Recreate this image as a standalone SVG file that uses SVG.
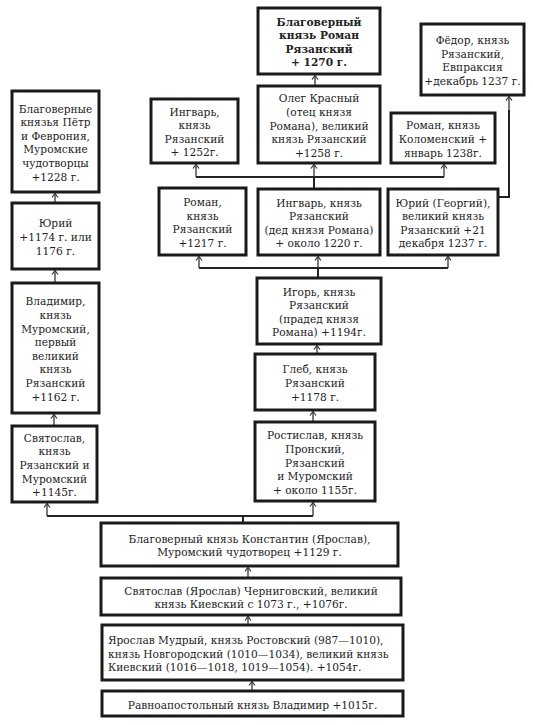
<svg xmlns="http://www.w3.org/2000/svg" width="533" height="725" viewBox="0 0 533 725">
<style>
.box{fill:#fff;stroke:#1a1a1a;stroke-width:3}
text{font-family:"DejaVu Serif Condensed","DejaVu Serif","Liberation Serif",serif;font-stretch:condensed;font-size:11.8px;fill:#222;text-anchor:middle}
.b{font-weight:bold}
.l{text-anchor:start}
.bus{fill:none;stroke:#222;stroke-width:2}
.arr{fill:none;stroke:#333;stroke-width:1.3;marker-end:url(#ah)}
</style>
<defs>
<marker id="ah" markerUnits="userSpaceOnUse" markerWidth="10" markerHeight="10" refX="0" refY="0" viewBox="-6 -5 8 10" orient="auto" overflow="visible">
<path d="M-4,-3 L0,0 L-4,3" fill="none" stroke="#333" stroke-width="1.2"/>
</marker>
</defs>
<rect width="533" height="725" fill="#fff"/>
<g id="connectors">
<path class="arr" d="M252,691 V681.5"/>
<path class="arr" d="M248,625 V616.5"/>
<path class="arr" d="M248,578 V567.5"/>
<path class="bus" d="M243,523 V516 M47,516 H313"/>
<path class="arr" d="M47,516 V503.5"/>
<path class="arr" d="M313,516 V502.5"/>
<path class="arr" d="M54,426 V414.5"/>
<path class="arr" d="M55,283 V270.5"/>
<path class="arr" d="M55,203 V193.5"/>
<path class="arr" d="M313,422 V411.5"/>
<path class="arr" d="M317,354 V345.5"/>
<path class="bus" d="M318,278 V268 M199,268 H448"/>
<path class="arr" d="M199,268 V256.5"/>
<path class="arr" d="M318,268 V256.5"/>
<path class="arr" d="M448,268 V256.5"/>
<path class="bus" d="M314,189 V177 M196,177 H444"/>
<path class="arr" d="M196,177 V164.5"/>
<path class="arr" d="M314,177 V164.5"/>
<path class="arr" d="M444,177 V164.5"/>
<path class="arr" d="M315,86 V75.5"/>
<path class="bus" d="M498,197 H509 V110"/>
<path class="arr" d="M509,110 V96.5"/>
</g>
<g id="roman">
<rect class="box" x="258" y="8" width="122" height="66"/>
<text class="b" x="319"><tspan x="319" y="25.6">Благоверный</tspan><tspan x="319" y="39.2">князь Роман</tspan><tspan x="319" y="52.8">Рязанский</tspan><tspan x="319" y="66.4">+ 1270 г.</tspan></text>
</g>
<g id="fyodor">
<rect class="box" x="421" y="24" width="103" height="71"/>
<text x="472.5"><tspan x="472.5" y="44.1">Фёдор, князь</tspan><tspan x="472.5" y="57.7">Рязанский,</tspan><tspan x="472.5" y="71.3">Евпраксия</tspan><tspan x="472.5" y="84.9">+декабрь 1237 г.</tspan></text>
</g>
<g id="peter">
<rect class="box" x="12" y="91" width="87" height="101"/>
<text x="55.5"><tspan x="55.5" y="112.5">Благоверные</tspan><tspan x="55.5" y="126.1">князья Пётр</tspan><tspan x="55.5" y="139.7">и Феврония,</tspan><tspan x="55.5" y="153.3">Муромские</tspan><tspan x="55.5" y="166.9">чудотворцы</tspan><tspan x="55.5" y="180.5">+1228 г.</tspan></text>
</g>
<g id="ingvar1252">
<rect class="box" x="151" y="99" width="87" height="64"/>
<text x="194.5"><tspan x="194.5" y="115.6">Ингварь,</tspan><tspan x="194.5" y="129.2">князь</tspan><tspan x="194.5" y="142.8">Рязанский</tspan><tspan x="194.5" y="156.4">+ 1252г.</tspan></text>
</g>
<g id="oleg">
<rect class="box" x="258" y="86" width="122" height="77"/>
<text x="319"><tspan x="319" y="102.3">Олег Красный</tspan><tspan x="319" y="115.9">(отец князя</tspan><tspan x="319" y="129.5">Романа), великий</tspan><tspan x="319" y="143.1">князь Рязанский</tspan><tspan x="319" y="156.7">+1258 г.</tspan></text>
</g>
<g id="romanK">
<rect class="box" x="391" y="113" width="104" height="50"/>
<text x="443"><tspan x="443" y="129.4">Роман, князь</tspan><tspan x="443" y="143">Коломенский +</tspan><tspan x="443" y="156.6">январь 1238г.</tspan></text>
</g>
<g id="roman1217">
<rect class="box" x="159" y="188" width="87" height="67"/>
<text x="202.5"><tspan x="202.5" y="206.1">Роман,</tspan><tspan x="202.5" y="219.7">князь</tspan><tspan x="202.5" y="233.3">Рязанский</tspan><tspan x="202.5" y="246.9">+1217 г.</tspan></text>
</g>
<g id="ingvarDed">
<rect class="box" x="258" y="189" width="122" height="66"/>
<text x="319"><tspan x="319" y="206.6">Ингварь, князь</tspan><tspan x="319" y="220.2">Рязанский</tspan><tspan x="319" y="233.8">(дед князя Романа)</tspan><tspan x="319" y="247.4">+ около 1220 г.</tspan></text>
</g>
<g id="yuriG">
<rect class="box" x="388" y="189" width="110" height="66"/>
<text x="443"><tspan x="443" y="206.6">Юрий (Георгий),</tspan><tspan x="443" y="220.2">великий князь</tspan><tspan x="443" y="233.8">Рязанский +21</tspan><tspan x="443" y="247.4">декабря 1237 г.</tspan></text>
</g>
<g id="yuri1174">
<rect class="box" x="12" y="203" width="87" height="66"/>
<text x="55.5"><tspan x="55.5" y="227.4">Юрий</tspan><tspan x="55.5" y="241">+1174 г. или</tspan><tspan x="55.5" y="254.6">1176 г.</tspan></text>
</g>
<g id="igor">
<rect class="box" x="257" y="278" width="124" height="66"/>
<text x="319"><tspan x="319" y="295.6">Игорь, князь</tspan><tspan x="319" y="309.2">Рязанский</tspan><tspan x="319" y="322.8">(прадед князя</tspan><tspan x="319" y="336.4">Романа) +1194г.</tspan></text>
</g>
<g id="vladimirM">
<rect class="box" x="12" y="283" width="87" height="130"/>
<text x="55.5"><tspan x="55.5" y="305.4">Владимир,</tspan><tspan x="55.5" y="319">князь</tspan><tspan x="55.5" y="332.6">Муромский,</tspan><tspan x="55.5" y="346.2">первый</tspan><tspan x="55.5" y="359.8">великий</tspan><tspan x="55.5" y="373.4">князь</tspan><tspan x="55.5" y="387">Рязанский</tspan><tspan x="55.5" y="400.6">+1162 г.</tspan></text>
</g>
<g id="gleb">
<rect class="box" x="255" y="354" width="120" height="56"/>
<text x="315"><tspan x="315" y="373.4">Глеб, князь</tspan><tspan x="315" y="387">Рязанский</tspan><tspan x="315" y="400.6">+1178 г.</tspan></text>
</g>
<g id="svyatoslavR">
<rect class="box" x="12" y="426" width="85" height="76"/>
<text x="54.5"><tspan x="54.5" y="441.8">Святослав,</tspan><tspan x="54.5" y="455.4">князь</tspan><tspan x="54.5" y="469">Рязанский и</tspan><tspan x="54.5" y="482.6">Муромский</tspan><tspan x="54.5" y="496.2">+1145г.</tspan></text>
</g>
<g id="rostislav">
<rect class="box" x="255" y="422" width="120" height="79"/>
<text x="315"><tspan x="315" y="439.3">Ростислав, князь</tspan><tspan x="315" y="452.9">Пронский,</tspan><tspan x="315" y="466.5">Рязанский</tspan><tspan x="315" y="480.1">и Муромский</tspan><tspan x="315" y="493.7">+ около 1155г.</tspan></text>
</g>
<g id="konstantin">
<rect class="box" x="101" y="523" width="297" height="43"/>
<text x="249.5"><tspan x="249.5" y="542.7">Благоверный князь Константин (Ярослав),</tspan><tspan x="249.5" y="556.3">Муромский чудотворец +1129 г.</tspan></text>
</g>
<g id="svyatoslavC">
<rect class="box" x="101" y="578" width="300" height="37"/>
<text x="251"><tspan x="251" y="594.7">Святослав (Ярослав) Черниговский, великий</tspan><tspan x="251" y="608.3">князь Киевский с 1073 г., +1076г.</tspan></text>
</g>
<g id="yaroslav">
<rect class="box" x="102" y="625" width="301" height="55"/>
<text class="l" x="108"><tspan x="108" y="643.9">Ярослав Мудрый, князь Ростовский (987—1010),</tspan><tspan x="108" y="657.5">князь Новгородский (1010—1034), великий князь</tspan><tspan x="108" y="671.1">Киевский (1016—1018, 1019—1054). +1054г.</tspan></text>
</g>
<g id="vladimirR">
<rect class="box" x="102" y="691" width="301" height="25"/>
<text x="252.5" y="708.5">Равноапостольный князь Владимир +1015г.</text>
</g>
</svg>
